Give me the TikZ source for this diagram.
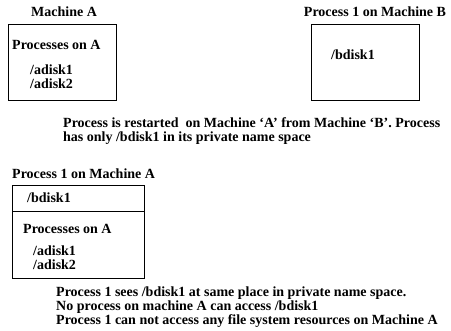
\documentclass[tikz,border=0pt]{standalone}
\usepackage{fontspec}
\setmainfont{Liberation Serif}
\usetikzlibrary{positioning}

\begin{document}
\begin{tikzpicture}[x=1pt,y=-1pt,
  txt/.style={font=\fontsize{14}{14}\selectfont\bfseries,inner sep=0pt,anchor=west},
  note/.style={txt,align=left},
  machbox/.style={draw,thick,inner sep=0pt,minimum width=108,minimum height=76,anchor=north west}]
\useasboundingbox (0,0) rectangle (451,331);
% top left: machine A
\node[txt,anchor=center] (titleA) at (64,12) {Machine A};
\node[machbox] (boxA) at (8,24) {};
\node[txt] (procA) at (12,45) {Processes on A};
\node[txt] (adiskA1) at (30,70) {/adisk1};
\node[txt] (adiskA2) at (30,84) {/adisk2};
% top right: process 1 on machine B
\node[txt,anchor=center] (titleB) at (375,12) {Process 1 on Machine B};
\node[machbox] (boxB) at (311,24) {};
\node[txt] (bdiskB) at (331,55) {/bdisk1};
\node[note] (noteA) at (63,131) {Process is restarted\ \ on Machine `A' from Machine `B'. Process\\has only /bdisk1 in its private name space};
% bottom: process 1 on machine A
\node[txt] (titleC) at (12,174) {Process 1 on Machine A};
\node[machbox,minimum width=132,minimum height=93] (boxC) at (12,185) {};
\coordinate (divL) at (12,211);
\draw[thick] (divL) -- (divL -| boxC.east);
\node[txt] (bdiskC) at (27,198) {/bdisk1};
\node[txt] (procC) at (23,229) {Processes on A};
\node[txt] (adiskC1) at (33,251) {/adisk1};
\node[txt] (adiskC2) at (33,265) {/adisk2};
\node[note] (noteB) at (56,307) {Process 1 sees /bdisk1 at same place in private name space.\\No process on machine A can access /bdisk1\\Process 1 can not access any file system resources on Machine A};
\end{tikzpicture}
\end{document}
